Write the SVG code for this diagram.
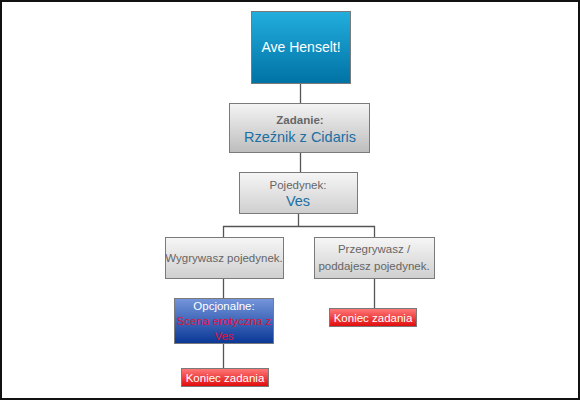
<svg xmlns="http://www.w3.org/2000/svg" width="580" height="400" viewBox="0 0 580 400">
<defs>
<linearGradient id="gBlue" x1="0" y1="0" x2="0" y2="1"><stop offset="0" stop-color="#22aede"/><stop offset="1" stop-color="#0072a4"/></linearGradient>
<linearGradient id="gGray" x1="0" y1="0" x2="0" y2="1"><stop offset="0" stop-color="#f4f4f4"/><stop offset="1" stop-color="#bdbdbd"/></linearGradient>
<linearGradient id="gGray2" x1="0" y1="0" x2="0" y2="1"><stop offset="0" stop-color="#f6f6f6"/><stop offset="1" stop-color="#cfcfcf"/></linearGradient>
<linearGradient id="gNavy" x1="0" y1="0" x2="0" y2="1"><stop offset="0" stop-color="#7596db"/><stop offset="1" stop-color="#0a3796"/></linearGradient>
<linearGradient id="gRed" x1="0" y1="0" x2="0" y2="1"><stop offset="0" stop-color="#ff7a7a"/><stop offset="1" stop-color="#e00a0a"/></linearGradient>
</defs>
<style>
text{font-family:"Liberation Sans",Arial,sans-serif;text-anchor:middle}
.box{stroke:#7a7a7a;stroke-width:1}
.wire{fill:none;stroke:#555;stroke-width:1.3}
.lbl{font-size:11.5px;fill:#666}
.big{font-size:14.5px;fill:#1b6fa3}
.w{fill:#fff}
.red{fill:#e0103a;font-size:11.5px}
</style>
<rect x="0" y="0" width="580" height="400" fill="#fff"/>
<rect x="1" y="1" width="578" height="398" fill="none" stroke="#111" stroke-width="2"/>
<g id="connectors">
<path class="wire" d="M300.5 83V103"/>
<path class="wire" d="M300.5 152V172"/>
<path class="wire" d="M298.5 213V226.5H223.5V237M298.5 226.5H374.5V237"/>
<path class="wire" d="M223.5 278V298"/>
<path class="wire" d="M223.5 343V368"/>
<path class="wire" d="M374.5 278V308"/>
</g>
<g id="n-ave">
<rect class="box" x="251.5" y="11.5" width="99" height="72" fill="url(#gBlue)"/>
<text x="301" y="52" class="w" font-size="14">Ave Henselt!</text>
</g>
<g id="n-zadanie">
<rect class="box" x="229.5" y="103.5" width="140" height="49" fill="url(#gGray)"/>
<text x="300" y="124" class="lbl" font-weight="bold" fill="#555">Zadanie:</text>
<text x="300" y="142" class="big">Rzeźnik z Cidaris</text>
</g>
<g id="n-pojedynek">
<rect class="box" x="239.5" y="172.5" width="118" height="41" fill="url(#gGray2)"/>
<text x="298" y="189" class="lbl">Pojedynek:</text>
<text x="298" y="206" class="big">Ves</text>
</g>
<g id="n-wygrywasz">
<rect class="box" x="165.5" y="237.5" width="118" height="41" fill="url(#gGray2)"/>
<text x="224" y="262" class="lbl">Wygrywasz pojedynek.</text>
</g>
<g id="n-przegrywasz">
<rect class="box" x="314.5" y="237.5" width="120" height="41" fill="url(#gGray2)"/>
<text x="374" y="253" class="lbl">Przegrywasz /</text>
<text x="374" y="270" class="lbl">poddajesz pojedynek.</text>
</g>
<g id="n-opcjonalne">
<rect class="box" x="174.5" y="298.5" width="99" height="45" fill="url(#gNavy)"/>
<text x="224" y="310" class="w" font-size="11.5">Opcjonalne:</text>
<text x="224" y="325" class="red">Scena erotyczna z</text>
<text x="224" y="340" class="red">Ves</text>
</g>
<g id="n-koniec1">
<rect class="box" x="181.5" y="368.5" width="87" height="18" fill="url(#gRed)"/>
<text x="225" y="381.5" class="w" font-size="11.5">Koniec zadania</text>
</g>
<g id="n-koniec2">
<rect class="box" x="329.5" y="308.5" width="87" height="18" fill="url(#gRed)"/>
<text x="373" y="321.5" class="w" font-size="11.5">Koniec zadania</text>
</g>
</svg>
